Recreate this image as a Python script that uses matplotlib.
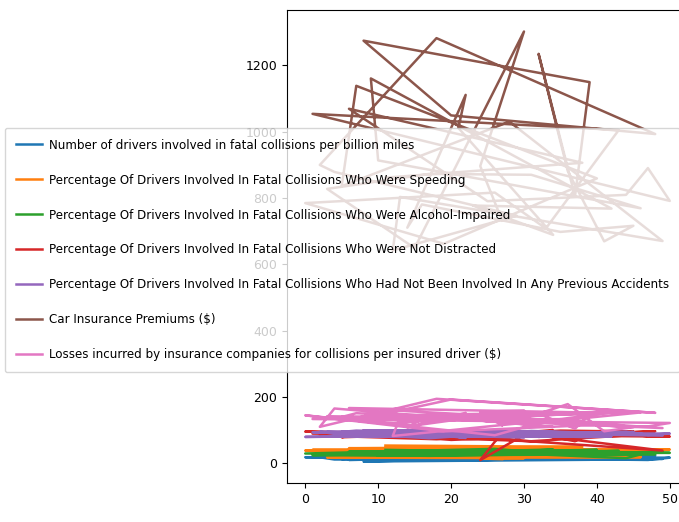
import matplotlib
matplotlib.use('Agg')
import matplotlib.pyplot as plt
import numpy as np

# Bad drivers data, states in alphabetical order (index 0..50)
drivers = [18.8, 18.1, 18.6, 22.4, 12.0, 13.6, 10.8, 16.2, 5.9, 17.9, 15.6, 17.5, 15.3, 12.8, 14.5, 15.7, 17.8,
           21.4, 20.5, 15.1, 12.5, 8.2, 14.1, 9.6, 17.6, 16.1, 21.4, 14.9, 14.7, 11.6, 11.2, 18.4, 12.3, 16.8,
           23.9, 14.1, 19.9, 12.8, 18.2, 11.1, 23.9, 19.4, 19.5, 19.4, 11.3, 13.6, 12.7, 10.6, 23.8, 13.8, 17.4]
speeding = [39, 41, 35, 18, 35, 37, 46, 38, 34, 21, 19, 54, 36, 36, 25, 17, 27, 19, 35, 38, 34, 23, 24, 23, 15,
            43, 39, 13, 37, 35, 16, 19, 32, 39, 23, 28, 32, 33, 50, 34, 38, 31, 21, 40, 43, 30, 19, 42, 34, 36, 42]
alcohol = [30, 25, 28, 26, 28, 28, 36, 30, 27, 29, 25, 41, 29, 34, 29, 25, 24, 23, 33, 30, 32, 35, 28, 29, 31,
           34, 44, 35, 32, 30, 28, 27, 29, 31, 42, 34, 29, 26, 31, 38, 41, 33, 29, 38, 16, 30, 27, 33, 28, 33, 32]
not_distracted = [96, 90, 84, 94, 91, 79, 87, 87, 100, 92, 95, 82, 85, 94, 95, 97, 77, 78, 73, 87, 71, 87, 95,
                  88, 10, 92, 84, 93, 95, 87, 86, 67, 88, 94, 99, 99, 92, 67, 96, 92, 96, 98, 82, 91, 88, 96,
                  87, 82, 97, 39, 81]
no_previous = [80, 94, 96, 95, 89, 95, 82, 99, 100, 94, 93, 87, 98, 96, 95, 87, 85, 76, 98, 84, 99, 80, 77, 88,
               100, 84, 85, 90, 99, 83, 78, 98, 80, 81, 86, 82, 94, 90, 88, 79, 81, 86, 81, 87, 96, 95, 88, 86,
               87, 84, 90]
premiums = [784.55, 1053.48, 899.47, 827.34, 878.41, 835.50, 1068.73, 1137.87, 1273.89, 1160.13, 913.15,
            861.18, 641.96, 803.11, 710.46, 649.06, 780.45, 872.51, 1281.55, 661.88, 1048.78, 1011.14,
            1110.61, 777.18, 896.07, 790.32, 816.21, 732.28, 1029.87, 746.54, 1301.52, 869.85, 1234.31,
            708.24, 688.75, 697.73, 881.51, 804.71, 905.99, 1148.99, 858.97, 669.31, 767.91, 1004.75,
            809.38, 716.20, 768.95, 890.03, 992.61, 670.31, 791.14]
losses = [145.08, 133.93, 110.35, 142.39, 165.63, 139.91, 167.02, 151.48, 136.05, 144.18, 142.80, 120.92,
          82.75, 139.15, 108.92, 114.47, 133.80, 137.13, 194.78, 96.57, 192.70, 135.63, 152.26, 133.35,
          155.77, 144.45, 85.15, 114.82, 138.71, 120.21, 159.85, 120.75, 150.01, 127.82, 109.72, 133.52,
          178.86, 104.61, 153.86, 148.58, 116.29, 96.87, 155.57, 156.83, 109.48, 109.61, 153.72, 111.62,
          152.56, 106.62, 122.04]

# row order of the frame (sorted by the speeding column)
row_order = [27, 24, 30, 15, 3, 17, 31, 46, 10, 9, 42, 23, 34, 21, 22, 14, 16, 35, 45, 41, 36, 32, 37,
             39, 8, 20, 48, 18, 2, 4, 29, 12, 13, 49, 28, 5, 7, 40, 19, 0, 26, 33, 43, 1, 50, 47, 44, 25,
             6, 38, 11]

labels = [
    'Number of drivers involved in fatal collisions per billion miles',
    'Percentage Of Drivers Involved In Fatal Collisions Who Were Speeding',
    'Percentage Of Drivers Involved In Fatal Collisions Who Were Alcohol-Impaired',
    'Percentage Of Drivers Involved In Fatal Collisions Who Were Not Distracted',
    'Percentage Of Drivers Involved In Fatal Collisions Who Had Not Been Involved In Any Previous Accidents',
    'Car Insurance Premiums ($)',
    'Losses incurred by insurance companies for collisions per insured driver ($)',
]
series = [drivers, speeding, alcohol, not_distracted, no_previous, premiums, losses]

plt.rcParams['font.family'] = ['DejaVu Sans']
fs = 8.55

fig = plt.figure(figsize=(6.79, 5.22), dpi=100)
ax = fig.add_axes([0.4227, 0.0747, 0.5906, 0.9061])

x = np.array(row_order)
for vals, lab in zip(series, labels):
    ax.plot(x, np.array(vals)[x], label=lab, lw=1.8)

ax.tick_params(labelsize=9)
ax.legend(loc='center left', bbox_to_anchor=(5 / 679, 1 - 250 / 522), bbox_transform=fig.transFigure,
          fontsize=fs, borderaxespad=0, borderpad=0.9, labelspacing=1.85, handlelength=2.2,
          handletextpad=0.6)

fig.savefig('out.png', dpi=100)
